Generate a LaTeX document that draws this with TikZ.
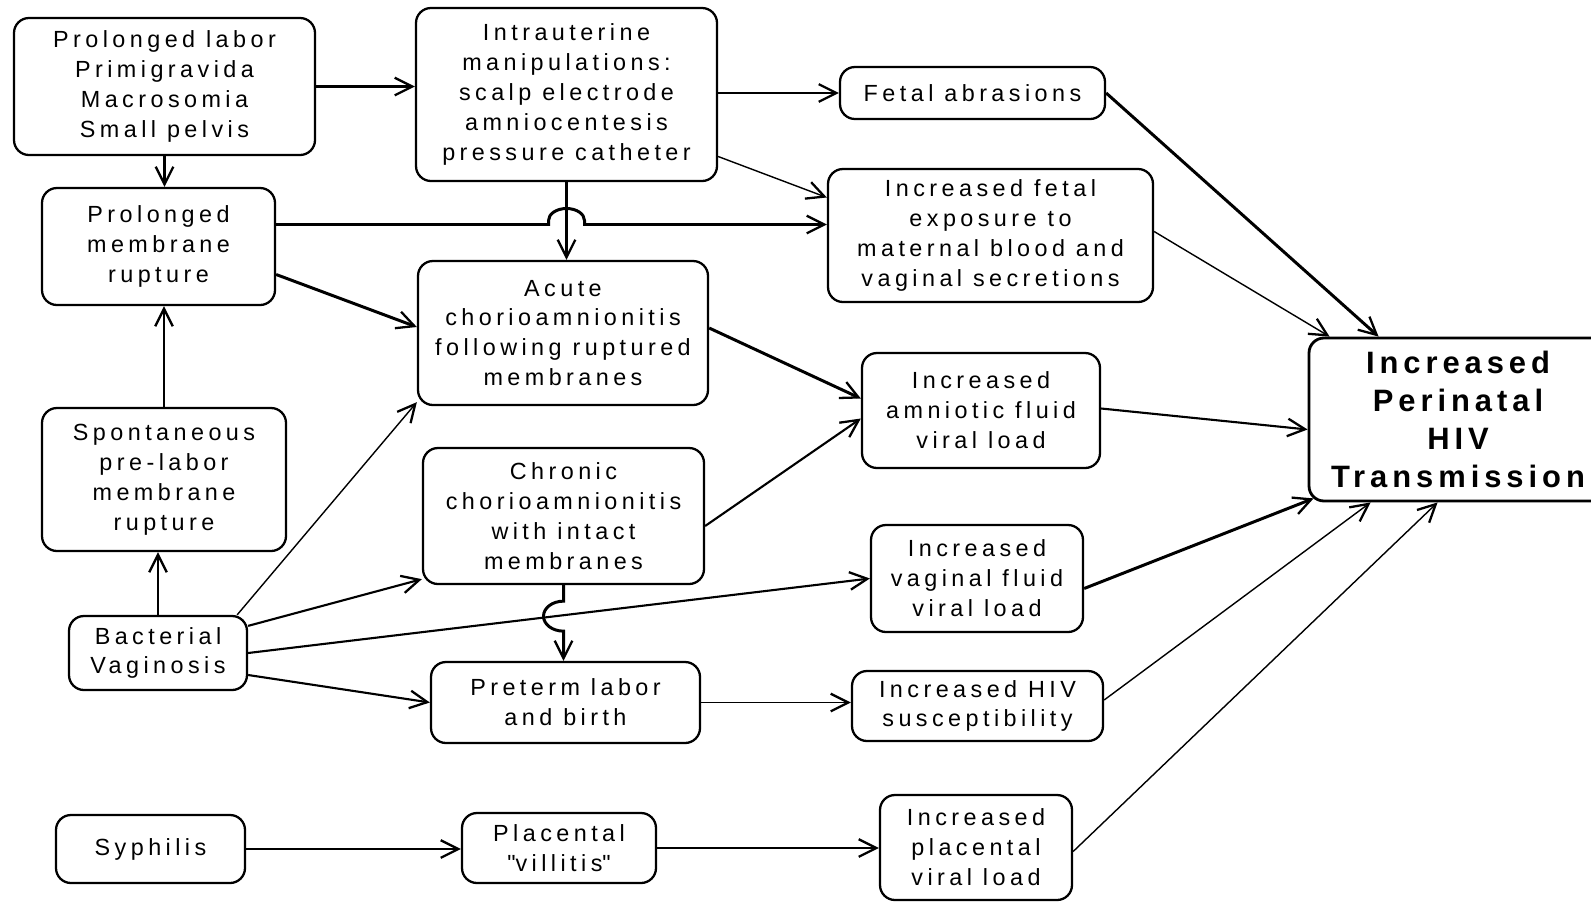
\documentclass[tikz,border=0pt]{standalone}
\usepackage{fontspec}
\setmainfont{Liberation Sans}[LetterSpace=19]
\usetikzlibrary{calc,arrows.meta}
\begin{document}
\begin{tikzpicture}[x=0.2mm,y=-0.2mm,
    box/.style={draw,line width=1.3pt,rounded corners=3mm,inner sep=0pt,align=center,
      font=\fontsize{13.3}{17}\selectfont},
    thk/.style={line width=1.7pt},
    med/.style={line width=1.2pt},
    thn/.style={line width=0.8pt}]
  \useasboundingbox (0,0) rectangle (1591,903);
  \node[box,minimum width=60.2mm,minimum height=27.4mm] (pl) at (164.5,86.5)
    {Prolonged labor\\Primigravida\\Macrosomia\\Small pelvis};
  \node[box,minimum width=60.2mm,minimum height=34.6mm] (iu) at (566.5,94.5)
    {Intrauterine\\manipulations:\\scalp electrode\\amniocentesis\\pressure catheter};
  \node[box,minimum width=53mm,minimum height=10.4mm] (fa) at (972.5,93)
    {Fetal abrasions};
  \node[box,minimum width=65mm,minimum height=26.6mm] (fe) at (990.5,235.5)
    {Increased fetal\\exposure to\\maternal blood and\\vaginal secretions};
  \node[box,minimum width=46.6mm,minimum height=23.4mm] (pm) at (158.5,246.5)
    {Prolonged\\membrane\\rupture};
  \node[box,minimum width=58mm,minimum height=28.8mm] (ac) at (563,333)
    {Acute\\chorioamnionitis\\following ruptured\\membranes};
  \node[box,minimum width=47.6mm,minimum height=23mm] (am) at (981,410.5)
    {Increased\\amniotic fluid\\viral load};
  \node[box,minimum width=48.8mm,minimum height=28.6mm] (sp) at (164,479.5)
    {Spontaneous\\pre-labor\\membrane\\rupture};
  \node[box,minimum width=56.2mm,minimum height=27.2mm] (ch) at (563.5,516)
    {Chronic\\chorioamnionitis\\with intact\\membranes};
  \node[box,minimum width=42.4mm,minimum height=21.4mm] (vf) at (977,578.5)
    {Increased\\vaginal fluid\\viral load};
  \node[box,minimum width=35.6mm,minimum height=14.8mm] (bv) at (158,653)
    {Bacterial\\Vaginosis};
  \node[box,minimum width=53.8mm,minimum height=16.2mm] (pt) at (565.5,702.5)
    {Preterm labor\\and birth};
  \node[box,minimum width=50.2mm,minimum height=14mm] (hs) at (977.5,706)
    {Increased HIV\\susceptibility};
  \node[box,minimum width=37.8mm,minimum height=13.6mm] (sy) at (150.5,849)
    {Syphilis};
  \node[box,minimum width=38.8mm,minimum height=14mm] (pv) at (559,848)
    {Placental\\\textquotedbl villitis\textquotedbl};
  \node[box,minimum width=38.4mm,minimum height=21mm] (plv) at (976,847.5)
    {Increased\\placental\\viral load};
  \node[box,line width=1.6pt,minimum width=59.6mm,minimum height=32.6mm,
    font=\fontsize{17.6}{21.5}\selectfont\bfseries\addfontfeatures{LetterSpace=16}] (tr) at (1458,419.5)
    {Increased\\Perinatal\\HIV\\Transmission};
  \begin{scope}[-{Straight Barb[length=10pt,width=10pt,line width=1.3pt]}]
    \draw[med] (pl.east) -- (pl.east -| iu.west);
    \draw[thk] (pl.south) -- (pl.south |- pm.north);
    \draw[thk] (iu.east |- fa.west) -- (fa.west);
    \draw[thn] ($(iu.east)+(0,62)$) -- ($(fe.west)+(0,-38)$);
    \draw[thk] ($(pm.east)+(0,-22)$) coordinate (pmhop)
      -- ($(pmhop -| iu.south)+(-18,0)$) -- ++(0,-4)
      arc[start angle=180,end angle=0,x radius=3.6mm,y radius=2.4mm]
      -- ++(0,4) -- (pmhop -| fe.west);
    \draw[thk] (iu.south) -- (iu.south |- ac.north);
    \draw[thk] ($(pm.east)+(0,28)$) -- ($(ac.west)+(0,-6)$);
    \draw[thk] (sp.north) -- (sp.north |- pm.south);
    \draw[thk] (bv.north) -- (bv.north |- sp.south);
    \draw[thn] ($(bv.north east)+(-11,0)$) -- ($(ac.south west)+(0,-4)$);
    \draw[med] ($(bv.north east)+(0,11)$) -- ($(ch.south west)+(0,-6)$);
    \draw[med] (bv.east) -- (vf.west);
    \draw[med] ($(bv.east)+(0,22)$) -- (pt.west);
    \draw[thk] (ch.south) -- ($(ch.south)+(0,16)$)
      arc[start angle=90,end angle=270,x radius=4mm,y radius=3mm]
      -- (ch.south |- pt.north);
    \draw[thk] ($(ac.east)+(0,-5)$) -- ($(am.west)+(0,-12)$);
    \draw[med] ($(ch.east)+(0,10)$) -- ($(am.west)+(0,8)$);
    \draw[thk] (fa.east) -- ($(tr.north west)+(71,0)$);
    \draw[thn] ($(fe.east)+(0,-4)$) -- ($(tr.north west)+(22,0)$);
    \draw[med] ($(am.east)+(0,-2)$) -- ($(tr.west)+(0,10)$);
    \draw[thk] ($(vf.east)+(0,10)$) -- ($(tr.south west)+(6,-4)$);
    \draw[thn] ($(hs.east)+(0,-6)$) -- ($(tr.south west)+(63,0)$);
    \draw[thn] ($(plv.east)+(0,4)$) -- ($(tr.south west)+(130,0)$);
    \draw[thn] (pt.east) -- (pt.east -| hs.west);
    \draw[thn] (sy.east) -- (sy.east -| pv.west);
    \draw[thn] (pv.east) -- (pv.east -| plv.west);
  \end{scope}
\end{tikzpicture}
\end{document}
